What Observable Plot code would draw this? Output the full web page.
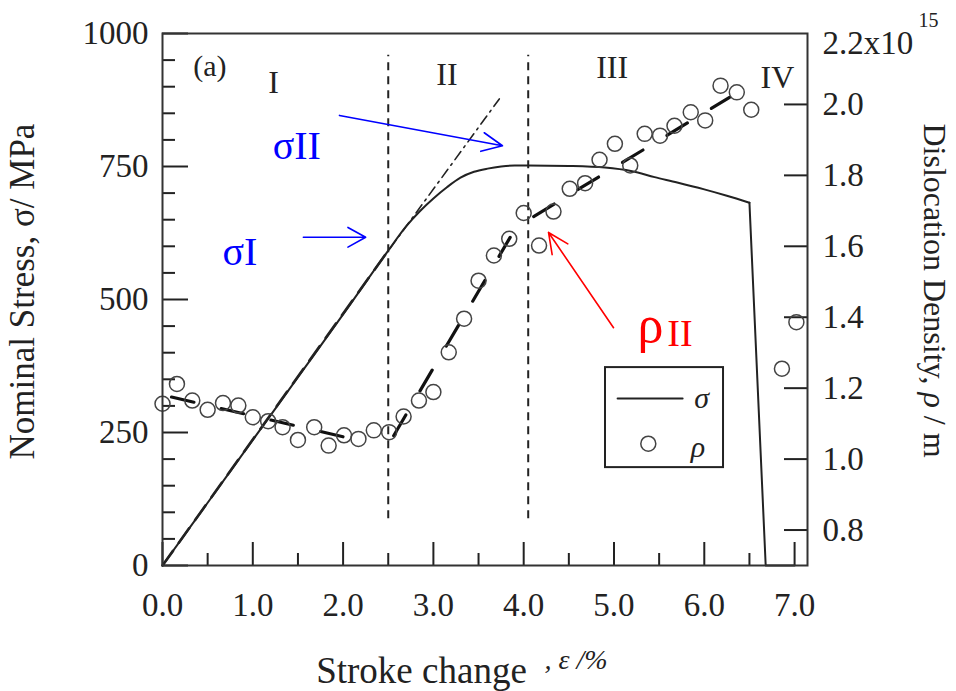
<!DOCTYPE html>
<html><head><meta charset="utf-8">
<script src="https://cdn.jsdelivr.net/npm/d3@7"></script>
<script src="https://cdn.jsdelivr.net/npm/@observablehq/plot@0.6"></script>
<style>html,body{margin:0;padding:0;background:#fff;} svg{display:block;}</style>
</head><body><div id="chart"></div>
<script>
// ---- data ----
const sigmaStrain = [0,0.5,1.0,1.5,2.0,2.5,2.7,2.85,3.0,3.15,3.3,3.45,3.6,3.75,3.9,4.05,4.5,4.9,5.2,5.45,5.7,6.0,6.25,6.5,6.68,7.0];
const sigmaValue  = [0,118,236,354,472,592,638,666,690,711,729,740,746,750,752,752,751,748,741,730,720,707,695,682,0,0];

const rhoStrain = [0.00,0.16,0.33,0.50,0.67,0.84,1.00,1.17,1.33,1.50,1.68,1.84,2.01,2.17,2.34,2.51,2.67,2.84,3.00,3.17,3.34,3.50,3.67,3.84,4.00,4.17,4.33,4.51,4.68,4.84,5.01,5.18,5.34,5.51,5.67,5.85,6.01,6.18,6.36,6.52,6.86,7.02];
const rhoValue  = [1.156,1.212,1.165,1.139,1.158,1.151,1.118,1.107,1.090,1.054,1.090,1.038,1.067,1.057,1.081,1.076,1.120,1.165,1.189,1.301,1.396,1.503,1.574,1.621,1.694,1.602,1.698,1.762,1.778,1.844,1.889,1.828,1.917,1.912,1.940,1.978,1.955,2.053,2.034,1.985,1.255,1.386];

const fitRhoIStrain = [0.10, 2.05],  fitRhoIValue = [1.175, 1.060];
const fitRhoIIStrain = [2.56, 3.85], fitRhoIIValue = [1.066, 1.625];
const fitRhoIIIStrain = [4.11, 6.28], fitRhoIIIValue = [1.684, 2.020];
const fitSigmaIStrain = [0, 2.5],     fitSigmaIValue = [0, 592];
const fitSigmaIIStrain = [2.52, 3.73], fitSigmaIIValue = [596, 877];

const stageBoundaries = [2.5, 4.05];
const stageNames = ["I","II","III","IV"];
const stageX = [1.23, 3.15, 4.98, 6.81];
const stageY = [908, 923, 936, 917];

const xTicks = [0,1,2,3,4,5,6,7];
const xMinorTicks = [0.5,1.5,2.5,3.5,4.5,5.5,6.5];
const yTicks = [0,250,500,750,1000];
const yMinorTicks = d3.range(50,1000,50).filter(v => v % 250 !== 0);
const rhoTicks = [0.8,1.0,1.2,1.4,1.6,1.8,2.0];

// ---- layout ----
const W = 956, H = 691;
const mL = 162, mR = 149, mT = 33, mB = 126;
const pW = W - mL - mR, pH = H - mT - mB;
const serif = "'Liberation Serif','Times New Roman',serif";
const rhoToY = r => (r - 0.7) / 1.5 * 1000;
const yToRho = y => y / 1000 * 1.5 + 0.7;

const sigmaData = sigmaStrain.map((x,i)=>({x, y: sigmaValue[i]}));
const sigmaSmooth = sigmaData.slice(0, 24);
const sigmaDrop = sigmaData.slice(23);
const rhoData = rhoStrain.map((x,i)=>({x, y: rhoToY(rhoValue[i])}));
const mk = (xs, vs, f = v => v) => xs.map((x,i)=>({x, y: f(vs[i])}));

const ink = "#222";

const chart = Plot.plot({
  width: W, height: H,
  marginLeft: mL, marginRight: mR, marginTop: mT, marginBottom: mB,
  style: {fontFamily: serif, background: "#fff", color: ink},
  x: {domain: [0, 7.143]},
  y: {domain: [0, 1000]},
  marks: [
    // ticks (inward)
    Plot.tickY(yTicks, {y: d=>d, insetRight: pW-26, stroke: ink, strokeWidth: 2}),
    Plot.tickY(yMinorTicks, {y: d=>d, insetRight: pW-13, stroke: ink, strokeWidth: 2}),
    Plot.tickY(rhoTicks, {y: d=>rhoToY(d), insetLeft: pW-23, stroke: ink, strokeWidth: 2}),
    Plot.tickX(xTicks, {x: d=>d, insetTop: pH-23, stroke: ink, strokeWidth: 2}),
    Plot.tickX(xMinorTicks, {x: d=>d, insetTop: pH-12, stroke: ink, strokeWidth: 2}),
    // axes labels
    Plot.axisY(yTicks, {anchor: "left", tickSize: 0, tickPadding: 14, fontSize: 33, label: null, tickFormat: d=>String(d)}),
    Plot.axisY(rhoTicks.map(rhoToY), {anchor: "right", tickSize: 0, tickPadding: 15, fontSize: 33, label: null, tickFormat: d=>yToRho(d).toFixed(1)}),
    Plot.axisX(xTicks, {tickSize: 0, tickPadding: 27, fontSize: 33, label: null, tickFormat: d3.format(".1f")}),
    Plot.text(["2.2x10"], {frameAnchor: "top-right", dx: 15, dy: 10, textAnchor: "start", lineAnchor: "middle", fontSize: 33}),
    Plot.text(["15"], {frameAnchor: "top-right", dx: 111, dy: -13, textAnchor: "start", lineAnchor: "middle", fontSize: 20}),
    // axis titles
    Plot.text(["Nominal Stress, σ/ MPa"], {frameAnchor: "left", dx: -140, dy: -8, rotate: -90, textAnchor: "middle", lineAnchor: "middle", fontSize: 35}),
    Plot.text(["Dislocation Density, ρ / m"], {frameAnchor: "right", dx: 127, dy: -9, rotate: 90, textAnchor: "middle", lineAnchor: "middle", fontSize: 32}),
    Plot.text(["Stroke change"], {frameAnchor: "bottom", dx: 421 - (mL + pW/2), dy: 106, textAnchor: "middle", lineAnchor: "middle", fontSize: 37}),
    Plot.text([", ε /%"], {frameAnchor: "bottom", dx: 544 - (mL + pW/2), dy: 95, textAnchor: "start", lineAnchor: "middle", fontSize: 28, fontStyle: "italic"}),
    // stage boundaries
    Plot.ruleX(stageBoundaries, {x: d=>d, y1: 88, y2: 959, stroke: ink, strokeWidth: 2, strokeDasharray: "8,6"}),
    Plot.text(stageNames, {x: (d,i)=>stageX[i], y: (d,i)=>stageY[i], text: d=>d, fontSize: 32}),
    Plot.text(["(a)"], {x: [0.34], y: [938], textAnchor: "start", fontSize: 30}),
    // stress
    Plot.line(sigmaSmooth, {x: "x", y: "y", curve: "monotone-x", stroke: ink, strokeWidth: 2}),
    Plot.line(sigmaDrop, {x: "x", y: "y", stroke: ink, strokeWidth: 2}),
    Plot.line(mk(fitSigmaIStrain, fitSigmaIValue), {x: "x", y: "y", stroke: ink, strokeWidth: 2.6, strokeDasharray: "18,10"}),
    Plot.line(mk(fitSigmaIIStrain, fitSigmaIIValue), {x: "x", y: "y", stroke: ink, strokeWidth: 1.6, strokeDasharray: "10,5,2,5"}),
    // dislocation density fits
    Plot.line(mk(fitRhoIStrain, fitRhoIValue, rhoToY), {x: "x", y: "y", stroke: "#111", strokeWidth: 3.2, strokeDasharray: "23,28"}),
    Plot.line(mk(fitRhoIIStrain, fitRhoIIValue, rhoToY), {x: "x", y: "y", stroke: "#111", strokeWidth: 3.2, strokeDasharray: "24,28"}),
    Plot.line(mk(fitRhoIIIStrain, fitRhoIIIValue, rhoToY), {x: "x", y: "y", stroke: "#111", strokeWidth: 3.2, strokeDasharray: "24,28"}),
    // dislocation density points
    Plot.dot(rhoData, {x: "x", y: "y", r: 7.5, stroke: "#444", strokeWidth: 1.5, fill: "none"}),
    // legend
    Plot.rect([0], {x1: 4.906, x2: 6.213, y1: 184, y2: 372, fill: "#fff", stroke: ink, strokeWidth: 2}),
    Plot.line([{x:5.04,y:314},{x:5.76,y:314}], {x: "x", y: "y", stroke: ink, strokeWidth: 2}),
    Plot.text(["σ"], {x: [5.97], y: [314], fontSize: 30, fontStyle: "italic"}),
    Plot.dot([0], {x: [5.38], y: [229], r: 7.5, stroke: "#444", strokeWidth: 1.5, fill: "none"}),
    Plot.text(["ρ"], {x: [5.93], y: [222], fontSize: 30, fontStyle: "italic"}),
    // annotations
    Plot.text(["σII"], {x: [1.22], y: [789], textAnchor: "start", fontSize: 40, fill: "#0000ff"}),
    Plot.text(["σI"], {x: [0.665], y: [588], textAnchor: "start", fontSize: 40, fill: "#0000ff"}),
    Plot.arrow([0], {x1: 1.96, y1: 846, x2: 3.765, y2: 789, stroke: "#0000ff", strokeWidth: 1.6, headLength: 21, headAngle: 50}),
    Plot.arrow([0], {x1: 1.56, y1: 617, x2: 2.25, y2: 617, stroke: "#0000ff", strokeWidth: 1.6, headLength: 19, headAngle: 58}),
    Plot.arrow([0], {x1: 4.995, y1: 447, x2: 4.275, y2: 626, stroke: "#ff0000", strokeWidth: 1.6, headLength: 21, headAngle: 50}),
    Plot.text(["ρ"], {x: [5.26], y: [451], textAnchor: "start", fontSize: 52, fill: "#ff0000"}),
    Plot.text(["II"], {x: [5.59], y: [436], textAnchor: "start", fontSize: 38, fill: "#ff0000"}),
    // frame
    Plot.frame({stroke: "#333", strokeWidth: 2})
  ]
});

// italic rho in right-hand title
d3.select(chart).selectAll("text").filter(function(){ return this.textContent === "Dislocation Density, ρ / m"; })
  .each(function(){
    const t = d3.select(this);
    t.text(null);
    t.append("tspan").text("Dislocation Density, ");
    t.append("tspan").attr("font-style","italic").text("ρ");
    t.append("tspan").text(" / m");
  });

document.getElementById("chart").appendChild(chart);
</script>
</body></html>
